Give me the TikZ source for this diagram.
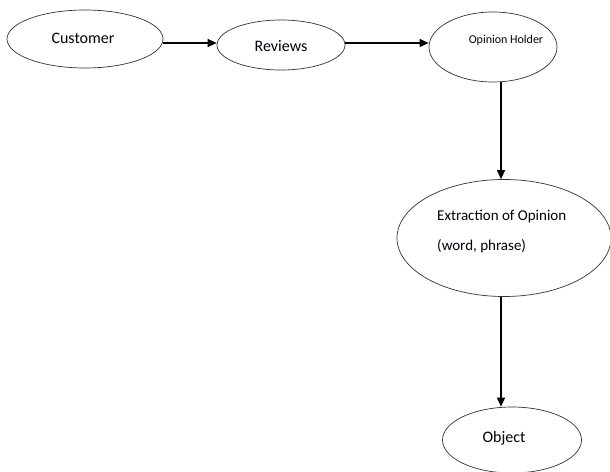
\documentclass[tikz,border=0pt]{standalone}
\usepackage{fontspec}
\setmainfont{Carlito}
\usetikzlibrary{shapes.geometric,arrows.meta}
\begin{document}
\begin{tikzpicture}[x=1pt,y=-1pt,
  ell/.style={draw=black!80,line width=0.7pt,ellipse,inner sep=0pt},
  txt/.style={inner sep=0pt,text=black!85!blue!30!black},
  conn/.style={draw=black,line width=1.2pt,-{Triangle[length=9pt,width=8pt]}}]
\useasboundingbox (0,0) rectangle (610,471);
\node[ell,minimum width=156,minimum height=58] (cust) at (85,39) {};
\node[ell,minimum width=128,minimum height=50] (rev) at (281,45) {};
\node[ell,minimum width=128,minimum height=70] (oh) at (493,47) {};
\node[ell,minimum width=214,minimum height=117] (ext) at (504,238) {};
\node[ell,minimum width=139,minimum height=66] (obj) at (512,440) {};
\node[txt,font=\fontsize{16}{18}\selectfont] (tcust) at (83,38) {Customer};
\node[txt,font=\fontsize{16}{18}\selectfont] (trev) at (281,46) {Reviews};
\node[txt,font=\fontsize{12}{14}\selectfont] (toh) at (506,40) {Opinion Holder};
\node[txt,font=\fontsize{15}{30}\selectfont,align=left,anchor=west] (text) at (437,232) {Extraction of Opinion\\(word, phrase)};
\node[txt,font=\fontsize{16}{18}\selectfont] (tobj) at (504,438) {Object};
\draw[conn] (cust.east |- 0,43) -- (rev.west |- 0,43);
\draw[conn] (rev.east |- 0,43) -- (oh.west |- 0,43);
\draw[conn] (oh.south -| 501,0) -- (ext.north -| 501,0);
\draw[conn] (ext.south -| 501,0) -- (obj.north -| 501,0);
\end{tikzpicture}
\end{document}
